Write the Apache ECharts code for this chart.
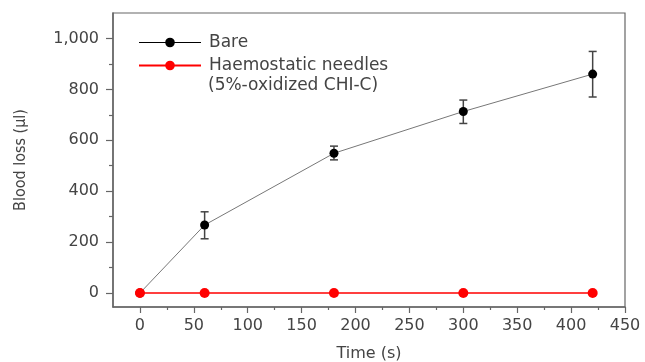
<!doctype html>
<html lang="en">
  <head>
    <meta charset="UTF-8" />
    <title>Blood loss</title>
    <script src="https://cdn.jsdelivr.net/npm/echarts@6/dist/echarts.min.js"></script>
    <style>
      html, body { margin: 0; padding: 0; background: #fff; }
      #chart { width: 645px; height: 362px; }
    </style>
  </head>
  <body>
    <div id="chart"></div>
    <script>
      // data
      var times = [0, 60, 180, 300, 420];
      var bareMean = [0, 267, 549, 713, 860];
      var bareLow = [0, 213, 523, 666, 770];
      var bareHigh = [0, 319, 577, 758, 949];
      var needles = [0, 0, 0, 0, 0];

      var xMajor = [0, 50, 100, 150, 200, 250, 300, 350, 400, 450];
      var xMinor = [25, 75, 125, 175, 225, 275, 325, 375, 425];
      var yMajor = [0, 200, 400, 600, 800, 1000];
      var yMinor = [100, 300, 500, 700, 900];

      var axisColor = '#666';
      var font = 'DejaVu Sans';

      var barePts = times.map(function (t, i) { return [t, bareMean[i]]; });
      var needlePts = times.map(function (t, i) { return [t, needles[i]]; });
      var errPts = times.slice(1).map(function (t, i) { return [t, bareLow[i + 1], bareHigh[i + 1]]; });

      var chart = echarts.init(document.getElementById('chart'), null, { renderer: 'canvas' });

      function baseX(extra) {
        return Object.assign({
          type: 'value', min: -25, max: 450,
          axisLine: { onZero: false, lineStyle: { color: axisColor, width: 1.5 } },
          splitLine: { show: false }
        }, extra);
      }
      function baseY(extra) {
        return Object.assign({
          type: 'value', min: -55, max: 1100,
          axisLine: { onZero: false, lineStyle: { color: axisColor, width: 1.5 } },
          splitLine: { show: false }
        }, extra);
      }

      chart.setOption({
        animation: false,
        grid: {
          left: 113, right: 20, top: 13, bottom: 55,
          containLabel: false, outerBoundsMode: 'none',
          show: true, borderColor: axisColor, borderWidth: 1.2
        },
        legend: {
          left: 133, top: 29, orient: 'vertical', itemWidth: 62, itemHeight: 12, itemGap: 6,
          textStyle: { fontFamily: font, fontSize: 17, color: '#444', padding: [0, 0, 0, 3] },
          data: [
            { name: 'Bare', lineStyle: { color: '#000', width: 1 } },
            { name: 'Haemostatic needles' }
          ],
          selectedMode: false
        },
        graphic: [{
          type: 'text', left: 208, top: 77,
          style: { text: '(5%-oxidized CHI-C)', font: '17px "DejaVu Sans"', fill: '#444' }
        }],
        xAxis: [
          baseX({
            name: 'Time (s)', nameLocation: 'middle', nameGap: 39,
            nameTextStyle: { fontFamily: font, fontSize: 16, color: '#444' },
            axisTick: { customValues: xMajor, length: 6, lineStyle: { color: axisColor, width: 1.2 } },
            axisLabel: { customValues: xMajor, margin: 11, fontFamily: font, fontSize: 16, color: '#444' }
          }),
          baseX({
            position: 'bottom',
            axisLine: { show: false, onZero: false },
            axisTick: { customValues: xMinor, length: 3, lineStyle: { color: axisColor, width: 1.2 } },
            axisLabel: { show: false }
          })
        ],
        yAxis: [
          baseY({
            name: 'Blood loss (µl)', nameLocation: 'middle', nameGap: 84,
            nameTextStyle: { fontFamily: 'DejaVu Sans Condensed', fontSize: 16, color: '#444' },
            axisTick: { customValues: yMajor, length: 7, lineStyle: { color: axisColor, width: 1.2 } },
            axisLabel: {
              customValues: yMajor, margin: 14, fontFamily: font, fontSize: 16, color: '#444',
              formatter: function (v) { return v.toLocaleString('en-US'); }
            }
          }),
          baseY({
            position: 'left',
            axisLine: { show: false, onZero: false },
            axisTick: { customValues: yMinor, length: 4, lineStyle: { color: axisColor, width: 1.2 } },
            axisLabel: { show: false }
          })
        ],
        series: [
          {
            name: 'Bare', type: 'line', data: barePts,
            symbol: 'circle', symbolSize: 9,
            itemStyle: { color: '#000' },
            lineStyle: { color: '#777', width: 1 },
            z: 3
          },
          {
            name: 'Haemostatic needles', type: 'line', data: needlePts,
            symbol: 'circle', symbolSize: 10,
            itemStyle: { color: '#f00' },
            lineStyle: { color: '#f00', width: 1.5 },
            z: 4
          },
          {
            type: 'custom', data: errPts, z: 2,
            renderItem: function (params, api) {
              var lo = api.coord([api.value(0), api.value(1)]);
              var hi = api.coord([api.value(0), api.value(2)]);
              var w = 4;
              var st = { stroke: '#444', lineWidth: 1.5 };
              return {
                type: 'group',
                children: [
                  { type: 'line', shape: { x1: lo[0], y1: lo[1], x2: hi[0], y2: hi[1] }, style: st },
                  { type: 'line', shape: { x1: lo[0] - w, y1: lo[1], x2: lo[0] + w, y2: lo[1] }, style: st },
                  { type: 'line', shape: { x1: hi[0] - w, y1: hi[1], x2: hi[0] + w, y2: hi[1] }, style: st }
                ]
              };
            }
          }
        ]
      });
    </script>
  </body>
</html>
